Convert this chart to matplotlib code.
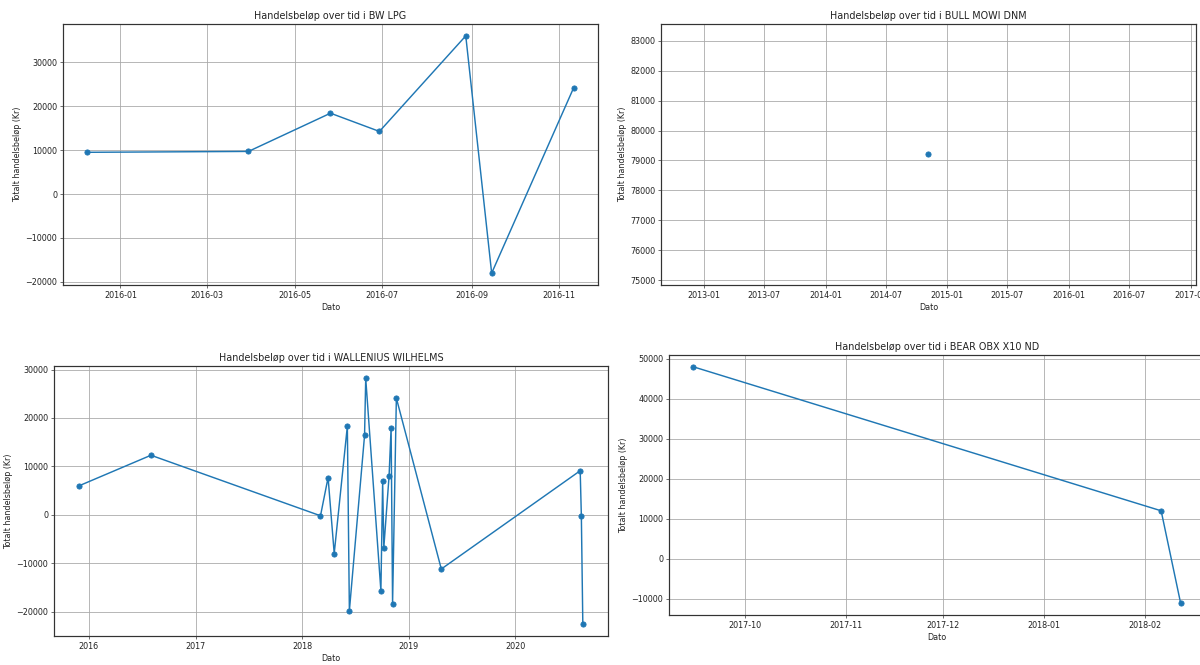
import matplotlib
matplotlib.use("Agg")
import matplotlib.pyplot as plt
from matplotlib.ticker import MultipleLocator
import numpy as np


# BW LPG
bw_dates = ["2015-12-09", "2016-03-30", "2016-05-26", "2016-06-29",
            "2016-08-28", "2016-09-15", "2016-11-11"]
bw_values = [9500, 9700, 18400, 14250, 36000, -18000, 24200]

# BULL MOWI DNM (single trade)
mowi_dates = ["2014-11-06"]
mowi_values = [79200]

# WALLENIUS WILHELMS
wal_dates = ["2015-11-29", "2016-08-01", "2018-03-05", "2018-03-31",
             "2018-04-21", "2018-06-05", "2018-06-12", "2018-08-03",
             "2018-08-07", "2018-09-28", "2018-10-04", "2018-10-08",
             "2018-10-26", "2018-11-02", "2018-11-07", "2018-11-20",
             "2019-04-23", "2020-08-11", "2020-08-15", "2020-08-20"]
wal_values = [6000, 12300, -200, 7700, -8000, 18300, -19800, 16400,
              28200, -15700, 6900, -6800, 8000, 18000, -18400, 24100,
              -11200, 9100, -300, -22500]

# BEAR OBX X10 ND
bear_dates = ["2017-09-15", "2018-02-06", "2018-02-12"]
bear_values = [48000, 12000, -11100]

DPI = 58
W_PX, H_PX = 1200, 665

plt.rcParams["text.color"] = "#222222"
plt.rcParams["axes.labelcolor"] = "#222222"
plt.rcParams["xtick.color"] = "#222222"
plt.rcParams["ytick.color"] = "#222222"


def px_rect(left, top, right, bottom):
    # pixel box -> figure fraction [x, y, w, h]
    return [left / W_PX, 1 - bottom / H_PX, (right - left) / W_PX, (bottom - top) / H_PX]


def draw_panel(fig, rect, name, dates, values, ystep):
    ax = fig.add_axes(rect)
    x = np.array(dates, dtype="datetime64[D]")
    ax.plot(x, values, marker="o", color="#1f77b4", linewidth=1.8, markersize=6.5)
    ax.set_title(f"Handelsbeløp over tid i {name}")
    ax.set_xlabel("Dato")
    ax.set_ylabel("Totalt handelsbeløp (Kr)")
    ax.yaxis.set_major_locator(MultipleLocator(ystep))
    ax.grid(True, color="#a8a8a8", linewidth=1.0)
    for spine in ax.spines.values():
        spine.set_linewidth(1.5)
        spine.set_color("#333333")
    return ax


def main() -> None:
    fig = plt.figure(figsize=(W_PX / DPI, H_PX / DPI), dpi=DPI)

    draw_panel(fig, px_rect(63, 24, 598, 285), "BW LPG", bw_dates, bw_values, 10000)
    draw_panel(fig, px_rect(661, 24, 1196, 285), "BULL MOWI DNM", mowi_dates, mowi_values, 1000)
    draw_panel(fig, px_rect(54, 366, 608, 636), "WALLENIUS WILHELMS", wal_dates, wal_values, 10000)
    draw_panel(fig, px_rect(669, 355, 1205, 615), "BEAR OBX X10 ND", bear_dates, bear_values, 10000)

    fig.savefig("out.png", dpi=DPI, facecolor="white")
    plt.close(fig)


if __name__ == "__main__":
    main()
